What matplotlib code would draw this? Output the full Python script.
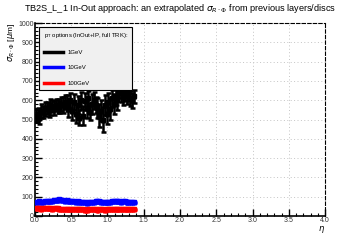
import numpy as np
import matplotlib
matplotlib.use("Agg")
import matplotlib.pyplot as plt
from matplotlib.ticker import MultipleLocator

plt.rcParams['font.family'] = ['Liberation Sans', 'DejaVu Sans']

# eta bins (centres)
eta = [0.0125, 0.0375, 0.0625, 0.0875, 0.1125, 0.1375, 0.1625, 0.1875, 0.2125, 0.2375,
       0.2625, 0.2875, 0.3125, 0.3375, 0.3625, 0.3875, 0.4125, 0.4375, 0.4625, 0.4875,
       0.5125, 0.5375, 0.5625, 0.5875, 0.6125, 0.6375, 0.6625, 0.6875, 0.7125, 0.7375,
       0.7625, 0.7875, 0.8125, 0.8375, 0.8625, 0.8875, 0.9125, 0.9375, 0.9625, 0.9875,
       1.0125, 1.0375, 1.0625, 1.0875, 1.1125, 1.1375, 1.1625, 1.1875, 1.2125, 1.2375,
       1.2625, 1.2875, 1.3125, 1.3375, 1.3625]

# 1 GeV
sig_1 = [520, 530, 515, 545, 540, 555, 560, 550, 565, 570,
         560, 575, 570, 565, 580, 575, 590, 585, 560, 600,
         545, 590, 530, 575, 510, 600, 520, 595, 560, 610,
         540, 580, 600, 575, 560, 520, 545, 500, 575, 530,
         590, 555, 610, 580, 620, 600, 650, 635, 615, 640,
         620, 630, 610, 600, 620]
err_1 = [35, 30, 40, 35, 30, 35, 30, 35, 40, 30,
         35, 30, 35, 30, 35, 40, 35, 40, 45, 40,
         45, 40, 50, 45, 40, 45, 50, 45, 50, 40,
         45, 50, 45, 40, 50, 60, 55, 65, 50, 55,
         50, 55, 45, 50, 45, 50, 40, 45, 40, 45,
         40, 35, 40, 40, 35]

# 10 GeV
sig_10 = [75, 74, 76, 73, 75, 77, 78, 76, 77, 80,
          82, 84, 85, 86, 84, 82, 80, 81, 79, 78,
          76, 77, 75, 76, 74, 73, 72, 70, 68, 72,
          74, 75, 73, 76, 78, 80, 74, 72, 70, 73,
          75, 74, 76, 77, 78, 77, 76, 75, 77, 76,
          75, 74, 72, 71, 70]
err_10 = [5] * len(eta)

# 100 GeV
sig_100 = [40, 39, 40, 38, 39, 40, 41, 40, 39, 38,
           39, 40, 39, 38, 37, 38, 37, 36, 37, 36,
           35, 36, 35, 36, 34, 35, 34, 33, 30, 34,
           35, 34, 35, 34, 33, 34, 35, 34, 33, 34,
           35, 36, 35, 34, 36, 37, 36, 35, 36, 37,
           36, 35, 34, 35, 34]
err_100 = [4] * len(eta)

fig = plt.figure(figsize=(3.6, 2.4), dpi=100)
ax = fig.add_axes([0.097, 0.1, 0.806, 0.804])

series = [(sig_1, err_1, 'black', '1GeV'),
          (sig_10, err_10, 'blue', '10GeV'),
          (sig_100, err_100, 'red', '100GeV')]
handles = []
for vals, errs, col, lab in series:
    ax.errorbar(eta, vals, yerr=errs, xerr=0.0125, fmt='s', color=col, ms=3.5,
                elinewidth=1.8, capsize=1.8, capthick=1.8, zorder=3)
    h, = ax.plot([], [], color=col, lw=2.5, label=lab)
    handles.append(h)

ax.set_xlim(0, 4)
ax.set_ylim(0, 1000)
ax.xaxis.set_major_locator(MultipleLocator(0.5))
ax.xaxis.set_minor_locator(MultipleLocator(0.1))
ax.yaxis.set_major_locator(MultipleLocator(100))
ax.yaxis.set_minor_locator(MultipleLocator(20))
ax.tick_params(which='both', direction='in', top=False, right=False, labelsize=5, pad=1,
               labelcolor='#333333')
ax.tick_params(which='major', length=5, width=1)
ax.tick_params(which='minor', length=2.5, width=0.8)
ax.grid(True, which='major', color='#c4c4c4', ls=(0, (1, 2.5)), lw=0.7)
for s in ['left', 'bottom']:
    ax.spines[s].set_linewidth(1.2)
for s in ['top', 'right']:
    ax.spines[s].set_linestyle((0, (3, 2)))
    ax.spines[s].set_linewidth(0.8)

ax.set_xlabel(r'$\eta$', fontsize=6, loc='right', labelpad=0)
ax.set_ylabel(r'$\sigma_{R\cdot\Phi}$ [$\mu$m]', fontsize=6, loc='top', labelpad=1)
fig.text(0.5, 0.965, r'TB2S_L_1 In-Out approach: an extrapolated $\sigma_{R\cdot\Phi}$ from previous layers/discs',
         ha='center', va='center', fontsize=6.6)

leg = ax.legend(handles=handles, title=r'p$_{\rm T}$ options (InOut+IP, full TRK):',
                loc='upper left', bbox_to_anchor=(0.005, 0.997), fontsize=4.3,
                title_fontsize=4.3, frameon=True, fancybox=False, edgecolor='black',
                facecolor='#f0f0f0', framealpha=1, borderpad=0.7, labelspacing=1.7,
                handlelength=3.2)
leg.get_frame().set_linewidth(0.8)
leg._legend_box.align = 'left'

fig.savefig('out.png', dpi=100)
